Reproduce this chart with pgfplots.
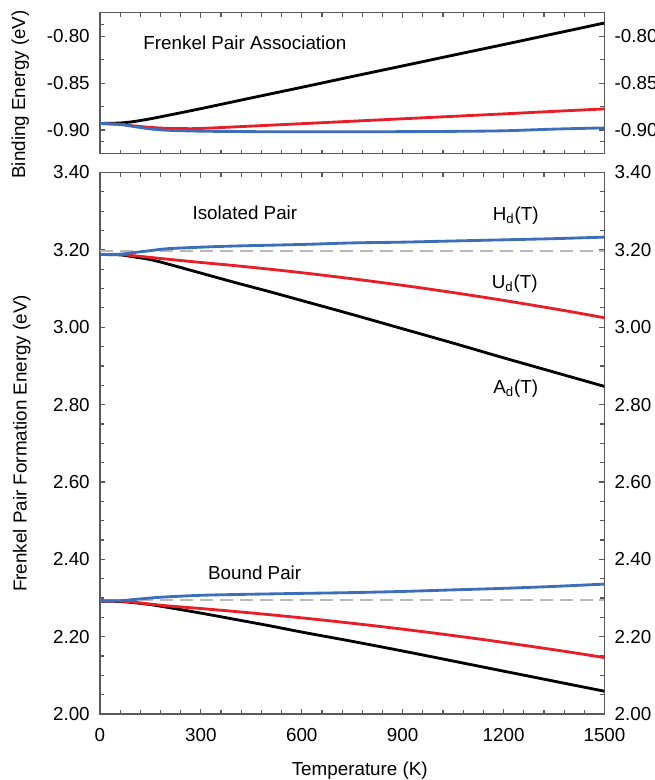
\documentclass[border=0pt]{standalone}
\usepackage{fontspec}
\setmainfont{Liberation Sans}
\usepackage{xcolor}
\usepackage{pgfplots}
\pgfplotsset{compat=1.18}

\definecolor{cred}{RGB}{232,30,40}
\definecolor{cblue}{RGB}{60,110,185}
\definecolor{cdash}{RGB}{185,185,185}
\definecolor{caxis}{RGB}{90,90,90}

\pgfplotsset{
 panel/.style={
  scale only axis,width=303pt,
  xmin=0,xmax=1500,xtick={0,300,...,1500},minor x tick num=4,
  tick align=inside,tick pos=both,
  major tick length=3pt,minor tick length=2.4pt,
  axis line style={caxis,line width=0.9pt},
  every tick/.style={caxis,line width=0.7pt},
  /pgf/number format/assume math mode=true,
  /pgf/number format/1000 sep={},
  tick label style={font=\fontsize{11.3}{13}\selectfont},
  label style={font=\fontsize{11.3}{13}\selectfont},
  yticklabel style={xshift=-2.6pt,/pgf/number format/.cd,fixed,fixed zerofill,precision=2},
  xticklabel style={yshift=-4.8pt},
 },
 rightlabels/.style={
  scale only axis,width=303pt,
  xmin=0,xmax=1500,hide x axis,
  axis y line*=right,axis line style={draw=none},
  major tick length=0pt,minor tick num=0,
  /pgf/number format/assume math mode=true,
  tick label style={font=\fontsize{11.3}{13}\selectfont},
  yticklabel style={xshift=2.6pt,/pgf/number format/.cd,fixed,fixed zerofill,precision=2},
 },
 curve/.style={line width=1.7pt,line join=round,smooth},
}

\begin{document}
\begin{tikzpicture}
% ---- top panel: binding energy
\begin{axis}[panel,at={(0pt,336.6pt)},anchor=south west,height=84.6pt,
 ymin=-0.925,ymax=-0.775,ytick={-0.90,-0.85,-0.80},
 minor ytick={-0.9125,-0.875,-0.825,-0.7875},
 xticklabels={},
 ylabel={Binding Energy (eV)},
 ylabel style={at={(axis description cs:-0.158,0.42)},anchor=center}]
\addplot[curve,black] coordinates {(0,-0.893) (60,-0.8925) (100,-0.891) (150,-0.888) (200,-0.8845) (300,-0.8772) (450,-0.8658) (600,-0.8545) (750,-0.843) (900,-0.8317) (1050,-0.8203) (1200,-0.809) (1350,-0.7975) (1500,-0.786)};
\addplot[curve,cred] coordinates {(0,-0.893) (60,-0.894) (100,-0.8955) (150,-0.8972) (200,-0.8982) (250,-0.8985) (300,-0.8983) (450,-0.8958) (600,-0.8932) (750,-0.8906) (900,-0.888) (1050,-0.8854) (1200,-0.8828) (1350,-0.8801) (1500,-0.8775)};
\addplot[curve,cblue] coordinates {(0,-0.893) (60,-0.894) (100,-0.8962) (150,-0.8988) (200,-0.9002) (300,-0.9012) (450,-0.9017) (600,-0.9018) (750,-0.9018) (900,-0.9017) (1050,-0.9014) (1200,-0.9008) (1350,-0.899) (1500,-0.8977)};
\node[anchor=base,font=\fontsize{11.3}{13}\selectfont] at (axis cs:431,-0.8143) {Frenkel Pair Association};
\end{axis}
\begin{axis}[rightlabels,at={(0pt,336.6pt)},anchor=south west,height=84.6pt,
 ymin=-0.925,ymax=-0.775,ytick={-0.90,-0.85,-0.80}]
\addplot[draw=none] coordinates {(0,-0.9)};
\end{axis}

% ---- bottom panel: formation energies
\begin{axis}[panel,at={(0pt,0pt)},anchor=south west,height=325.2pt,
 ymin=2.0,ymax=3.4,ytick={2.0,2.2,2.4,2.6,2.8,3.0,3.2,3.4},minor y tick num=3,
 xlabel={Temperature (K)},
 xlabel style={at={(axis description cs:0.515,0)},anchor=base,yshift=-36.6pt},
 ylabel={Frenkel Pair Formation Energy (eV)},
 ylabel style={at={(axis description cs:-0.155,0.5)},anchor=center}]
% isolated pair
\addplot[cdash,line width=1.2pt,dash pattern=on 8pt off 4pt] coordinates {(0,3.196) (1500,3.196)};
\addplot[curve,black] coordinates {(0,3.188) (60,3.187) (100,3.182) (150,3.175) (200,3.164) (300,3.140) (400,3.116) (500,3.093) (600,3.069) (750,3.033) (900,2.996) (1050,2.959) (1200,2.921) (1350,2.884) (1500,2.847)};
\addplot[curve,cred] coordinates {(0,3.188) (60,3.188) (100,3.185) (200,3.176) (300,3.1675) (400,3.1594) (500,3.1505) (600,3.141) (700,3.1307) (800,3.1198) (900,3.1083) (1000,3.096) (1100,3.0831) (1200,3.0694) (1300,3.0551) (1400,3.0402) (1500,3.0245)};
\addplot[curve,cblue] coordinates {(0,3.188) (60,3.189) (100,3.193) (150,3.198) (200,3.203) (300,3.207) (400,3.210) (600,3.214) (750,3.218) (900,3.220) (1050,3.223) (1200,3.226) (1350,3.229) (1500,3.233)};
% bound pair
\addplot[cdash,line width=1.2pt,dash pattern=on 8pt off 4pt] coordinates {(0,2.294) (1500,2.294)};
\addplot[curve,black] coordinates {(0,2.292) (60,2.291) (100,2.288) (150,2.283) (200,2.276) (300,2.261) (400,2.245) (500,2.229) (600,2.212) (750,2.188) (900,2.163) (1050,2.137) (1200,2.111) (1350,2.085) (1500,2.059)};
\addplot[curve,cred] coordinates {(0,2.292) (60,2.292) (100,2.289) (200,2.2798) (300,2.2728) (400,2.2653) (500,2.2573) (600,2.2487) (700,2.2395) (800,2.2298) (900,2.2195) (1000,2.2086) (1100,2.1972) (1200,2.1852) (1300,2.1727) (1400,2.1597) (1500,2.146)};
\addplot[curve,cblue] coordinates {(0,2.292) (60,2.293) (100,2.296) (150,2.300) (200,2.303) (300,2.307) (400,2.309) (600,2.312) (750,2.314) (900,2.317) (1050,2.321) (1200,2.325) (1350,2.330) (1500,2.336)};
\node[anchor=base,font=\fontsize{11.3}{13}\selectfont] at (axis cs:431,3.2778) {Isolated Pair};
\node[anchor=base,font=\fontsize{11.3}{13}\selectfont] at (axis cs:1236,3.276) {H\textsubscript{d}(T)};
\node[anchor=base,font=\fontsize{11.3}{13}\selectfont] at (axis cs:1233,3.0996) {U\textsubscript{d}(T)};
\node[anchor=base,font=\fontsize{11.3}{13}\selectfont] at (axis cs:1236,2.829) {A\textsubscript{d}(T)};
\node[anchor=base,font=\fontsize{11.3}{13}\selectfont] at (axis cs:460,2.348) {Bound Pair};
\end{axis}
\begin{axis}[rightlabels,at={(0pt,0pt)},anchor=south west,height=325.2pt,
 ymin=2.0,ymax=3.4,ytick={2.0,2.2,2.4,2.6,2.8,3.0,3.2,3.4}]
\addplot[draw=none] coordinates {(0,3)};
\end{axis}

\pgfresetboundingbox
\path (-60pt,-39.6pt) rectangle (333pt,428.8pt);
\end{tikzpicture}
\end{document}
